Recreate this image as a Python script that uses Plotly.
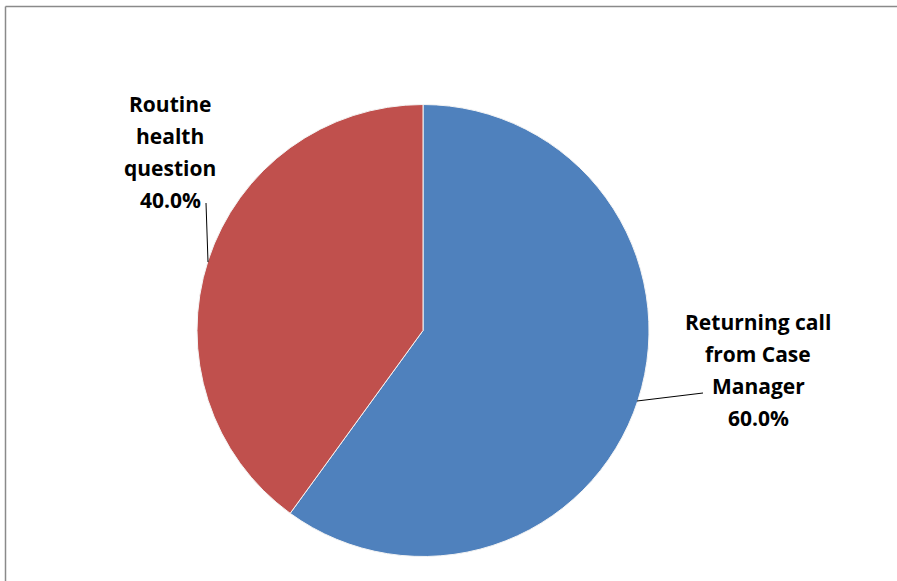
import plotly.graph_objects as go

W, H = 897, 581

categories = ["Returning call from Case Manager", "Routine health question"]
values = [60.0, 40.0]
colors = ["#4F81BD", "#C0504D"]
label_lines = [["Returning call", "from Case", "Manager"], ["Routine", "health", "question"]]

def px(x):
    return x / W

def py(y):
    return 1 - y / H

fig = go.Figure()
fig.add_trace(go.Pie(
    labels=categories,
    values=values,
    sort=False,
    direction="clockwise",
    rotation=0,
    marker=dict(colors=colors, line=dict(color="#f4f4f4", width=1)),
    textinfo="none",
    hoverinfo="label+percent",
    showlegend=False,
    domain=dict(x=[px(197), px(649)], y=[py(557), py(104)]),
))

font = dict(family="Open Sans, Liberation Sans, sans-serif", size=21, color="#000000")

total = sum(values)
label_pos = [(758, 322), (170, 104)]
line_step = 32
annotations = []
for lines, v, (cx, top) in zip(label_lines, values, label_pos):
    all_lines = lines + [f"{v / total * 100:.1f}%"]
    for i, ln in enumerate(all_lines):
        annotations.append(dict(
            x=px(cx), y=py(top + i * line_step), xref="paper", yref="paper",
            text="<b>" + ln + "</b>", showarrow=False, align="center",
            xanchor="center", yanchor="middle", font=font,
        ))

shapes = [
    # frame
    dict(type="line", xref="paper", yref="paper", x0=px(5.5), x1=px(W + 5), y0=py(6.5), y1=py(6.5),
         line=dict(color="#8a8a8a", width=1.5)),
    dict(type="line", xref="paper", yref="paper", x0=px(5.5), x1=px(5.5), y0=py(6.5), y1=py(H + 5),
         line=dict(color="#8a8a8a", width=1.5)),
    # leader lines
    dict(type="line", xref="paper", yref="paper", x0=px(206), x1=px(208), y0=py(203), y1=py(262),
         line=dict(color="#000000", width=1)),
    dict(type="line", xref="paper", yref="paper", x0=px(637), x1=px(703), y0=py(401), y1=py(393),
         line=dict(color="#000000", width=1)),
]

fig.update_layout(
    width=W, height=H,
    margin=dict(l=0, r=0, t=0, b=0),
    paper_bgcolor="#ffffff",
    plot_bgcolor="#ffffff",
    annotations=annotations,
    shapes=shapes,
)

fig.write_html("out.html", config={"displayModeBar": False},
               post_script="document.body.style.margin='0px';")
